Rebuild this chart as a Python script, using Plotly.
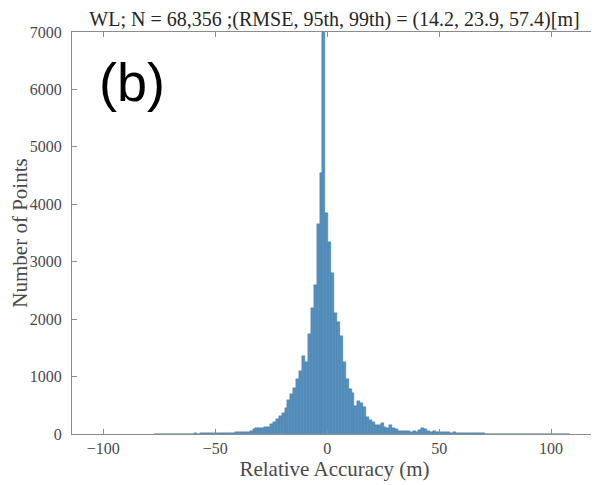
import numpy as np
import plotly.graph_objects as go

# histogram bins (m) - first bin centre and width, counts
bin_first = -76.9
bin_width = 1.3
counts = [
    3, 1, 2, 2, 3, 2, 4, 3, 5, 4, 6, 5, 8, 6, 10, 8, 12, 10, 15, 10,
    25, 15, 20, 15, 25, 20, 20, 25, 30, 30, 35, 40, 40, 45, 90, 110, 100, 110, 120, 130,
    170, 210, 260, 320, 370, 450, 590, 700, 800, 950, 1100, 1350, 1250, 1750, 2200, 2600, 3650, 4540,
    9000,
    3850, 3350, 2800, 2100, 1950, 1700, 1250, 950, 780, 710, 480, 570, 540, 470, 300, 250,
    210, 160, 150, 190, 120, 110, 150, 100, 95, 60, 55, 50, 45, 40, 45, 40, 70, 100, 80, 50,
    40, 45, 35, 40, 30, 35, 30, 25, 30, 25, 20, 25, 20, 15, 18, 15, 12, 12, 10, 8,
    6, 8, 4, 5, 3, 4, 2, 3, 0, 3, 2, 0, 3, 2, 0, 3, 2, 3, 4, 2,
    3, 0, 2, 0, 0, 3, 2, 0,
]
centres = bin_first + bin_width * np.arange(len(counts))

x_ticks = [-100, -50, 0, 50, 100]
y_ticks = [0, 1000, 2000, 3000, 4000, 5000, 6000, 7000]

title = "WL; N = 68,356 ;(RMSE, 95th, 99th) = (14.2, 23.9, 57.4)[m]"

fig = go.Figure()
fig.add_trace(go.Bar(
    x=centres, y=counts, width=bin_width,
    marker=dict(color="#5592c0", line=dict(color="#3a6f9a", width=0.4)),
    showlegend=False,
))

axis_common = dict(
    showline=True, mirror="ticks", linecolor="#8c8c8c", linewidth=1,
    ticks="inside", ticklen=5, tickcolor="#8c8c8c", showgrid=False, zeroline=False,
    automargin=False,
    tickfont=dict(family="Liberation Serif", size=16, color="#4a4a4a"),
)

fig.update_xaxes(range=[-114, 120.5], tickvals=x_ticks, ticklabelstandoff=0,
                 title=dict(text="Relative Accuracy (m)", standoff=1,
                            font=dict(family="Liberation Serif", size=21, color="#4a4a4a")),
                 **axis_common)
fig.update_yaxes(range=[0, 7000], tickvals=y_ticks, ticklabelstandoff=6,
                 title=dict(text="Number of Points", standoff=6,
                            font=dict(family="Liberation Serif", size=21, color="#4a4a4a")),
                 **axis_common)

fig.add_annotation(text="(b)", xref="paper", yref="paper", x=0.114, y=0.876,
                   xanchor="center", yanchor="middle",
                   showarrow=False, font=dict(family="Liberation Sans", size=54, color="black"))

# page body adds an 8px margin, so the figure is 8px smaller than the window
fig.update_layout(
    width=591, height=477,
    margin=dict(l=64, r=2, t=24, b=51),
    plot_bgcolor="white", paper_bgcolor="white",
    bargap=0,
    title=dict(text=title, x=0.5, xref="paper", y=0.977, yanchor="middle",
               font=dict(family="Liberation Serif", size=20, color="#262626")),
)

fig.write_html("out.html")
